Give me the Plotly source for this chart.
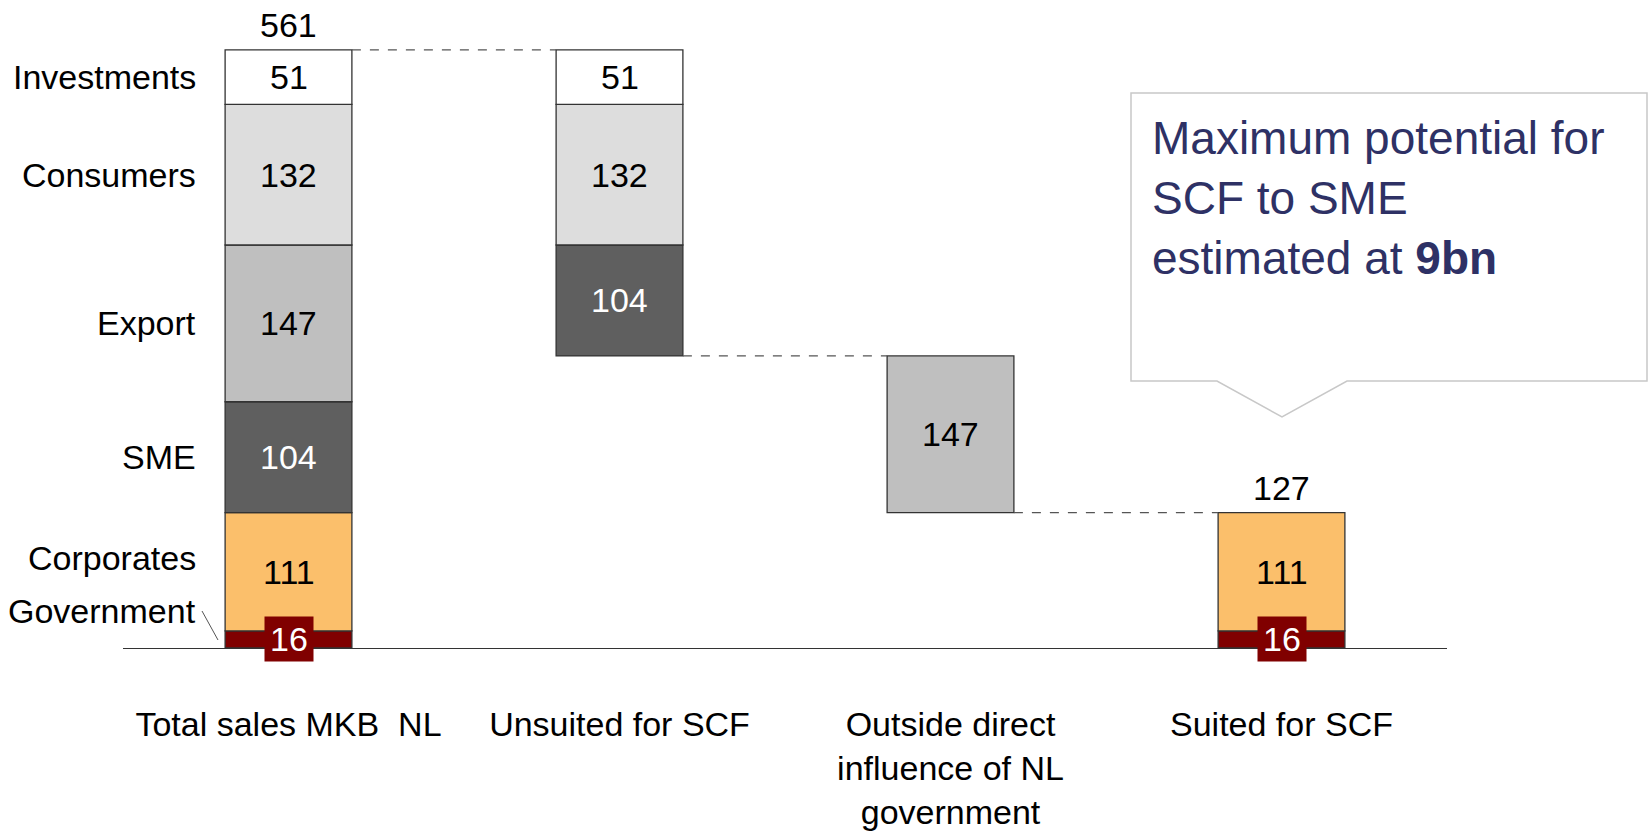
import plotly.graph_objects as go

# ---- data ----
categories = ["Total sales MKB  NL", "Unsuited for SCF",
              "Outside direct<br>influence of NL<br>government", "Suited for SCF"]
segments = ["Government", "Corporates", "SME", "Export", "Consumers", "Investments"]  # bottom -> top
seg_values = [16, 111, 104, 147, 132, 51]
seg_colors = ["#800000", "#FBBF6B", "#5F5F5F", "#BFBFBF", "#DDDDDD", "#FFFFFF"]
seg_text_colors = ["#FFFFFF", "#000000", "#FFFFFF", "#000000", "#000000", "#000000"]
# which segments appear in which column (top -> bottom order)
col_members = [
    ["Investments", "Consumers", "Export", "SME", "Corporates", "Government"],
    ["Investments", "Consumers", "SME"],
    ["Export"],
    ["Corporates", "Government"],
]
total_labels = {0: 561, 3: 127}
callout_lines = ["Maximum potential for", "SCF to SME", "estimated at <b>9bn</b>"]

val = dict(zip(segments, seg_values))
col = dict(zip(segments, seg_colors))
tcol = dict(zip(segments, seg_text_colors))

# column tops (waterfall): col0 & col1 start at total, later ones start at previous bottom
grand_total = sum(seg_values)
col_tops = [grand_total]
cur = grand_total
col_tops.append(cur)
cur -= sum(val[m] for m in col_members[1])
col_tops.append(cur)
cur -= sum(val[m] for m in col_members[2])
col_tops.append(cur)

# bases for each segment in each column
seg_x = {s: [] for s in segments}
seg_base = {s: [] for s in segments}
for ci, members in enumerate(col_members):
    t = col_tops[ci]
    for m in members:
        b = t - val[m]
        seg_x[m].append(ci)
        seg_base[m].append(b)
        t = b

BW = 0.383
FONT = "Liberation Sans, Arial, sans-serif"
FS = 34

fig = go.Figure()
for s in segments:
    fig.add_trace(go.Bar(
        x=seg_x[s], y=[val[s]] * len(seg_x[s]), base=seg_base[s],
        width=BW, name=s,
        marker=dict(color=col[s], line=dict(color="#333333", width=1.3)),
        showlegend=False, hoverinfo="skip",
    ))

ann = []
# value labels in segments
for s in segments:
    for xi, b in zip(seg_x[s], seg_base[s]):
        if s == "Government":
            ann.append(dict(x=xi, y=b + val[s] / 2, text=str(val[s]), showarrow=False,
                            font=dict(family=FONT, size=FS, color=tcol[s]),
                            bgcolor=col[s], width=48, height=44, borderpad=0,
                            xanchor="center", yanchor="middle"))
        else:
            ann.append(dict(x=xi, y=b + val[s] / 2, text=str(val[s]), showarrow=False,
                            font=dict(family=FONT, size=FS, color=tcol[s]),
                            xanchor="center", yanchor="middle"))
# totals
for ci, v in total_labels.items():
    ann.append(dict(x=ci, y=col_tops[ci], text=str(v), showarrow=False,
                    font=dict(family=FONT, size=FS, color="#000000"),
                    xanchor="center", yanchor="bottom", yshift=5, borderpad=0))
# left segment labels
label_shift = {"Corporates": 14, "Government": 28}
t = col_tops[0]
for m in col_members[0]:
    b = t - val[m]
    ann.append(dict(x=-BW / 2, y=b + val[m] / 2, text=m, showarrow=False,
                    font=dict(family=FONT, size=FS, color="#000000"),
                    xanchor="right", yanchor="middle", xshift=-27,
                    yshift=label_shift.get(m, 0)))
    t = b

PX0, PX1 = 123, 1447      # plot area in page px
PY0, PY1 = 648, 35
def px(x):
    return (x - PX0) / (PX1 - PX0)
def py(y):
    return (PY0 - y) / (PY0 - PY1)

ann.append(dict(xref="paper", yref="paper", x=px(1150), y=py(110),
                text="<br>".join(callout_lines), showarrow=False, align="left",
                xanchor="left", yanchor="top",
                font=dict(family=FONT, size=46, color="#2E3165")))

shapes = []
# connector dashed lines: top of col0 -> col1, bottom of col1 -> col2, bottom of col2 -> col3
conn_levels = [col_tops[0], col_tops[2], col_tops[3]]
for ci, yv in enumerate(conn_levels):
    shapes.append(dict(type="line", xref="x", yref="y",
                       x0=ci + BW / 2, x1=ci + 1 - BW / 2, y0=yv, y1=yv,
                       line=dict(color="#555555", width=1.3, dash="dash")))

# government leader line
shapes.append(dict(type="line", xref="paper", yref="paper",
                   x0=px(202), y0=py(611), x1=px(218), y1=py(640),
                   line=dict(color="#555555", width=1)))
# callout box with pointer
path = (f"M {px(1131)},{py(93)} L {px(1647)},{py(93)} L {px(1647)},{py(381)} "
        f"L {px(1347)},{py(381)} L {px(1282)},{py(417)} L {px(1217)},{py(381)} "
        f"L {px(1131)},{py(381)} Z")
shapes.append(dict(type="path", xref="paper", yref="paper", path=path,
                   line=dict(color="#C8C8C8", width=1.5), fillcolor="rgba(0,0,0,0)"))

fig.update_layout(
    width=1650, height=832,
    margin=dict(l=PX0, r=1650 - PX1, t=PY1, b=832 - PY0, autoexpand=False),
    paper_bgcolor="white", plot_bgcolor="white",
    barmode="overlay",
    annotations=ann, shapes=shapes,
    xaxis=dict(range=[-0.5, 3.5], tickvals=[0, 1, 2, 3], ticktext=categories,
               showline=True, linecolor="#333333", linewidth=1.3, showgrid=False,
               zeroline=False, ticks="outside", ticklen=46, tickcolor="rgba(0,0,0,0)",
               automargin=False, fixedrange=True,
               tickfont=dict(family=FONT, size=FS, color="#000000")),
    yaxis=dict(range=[0, 575], visible=False, showgrid=False, zeroline=False,
               automargin=False, fixedrange=True),
    font=dict(family=FONT),
)
fig.write_html("out.html", config={"displayModeBar": False},
               post_script="document.body.style.margin='0';document.body.style.overflow='hidden';")
